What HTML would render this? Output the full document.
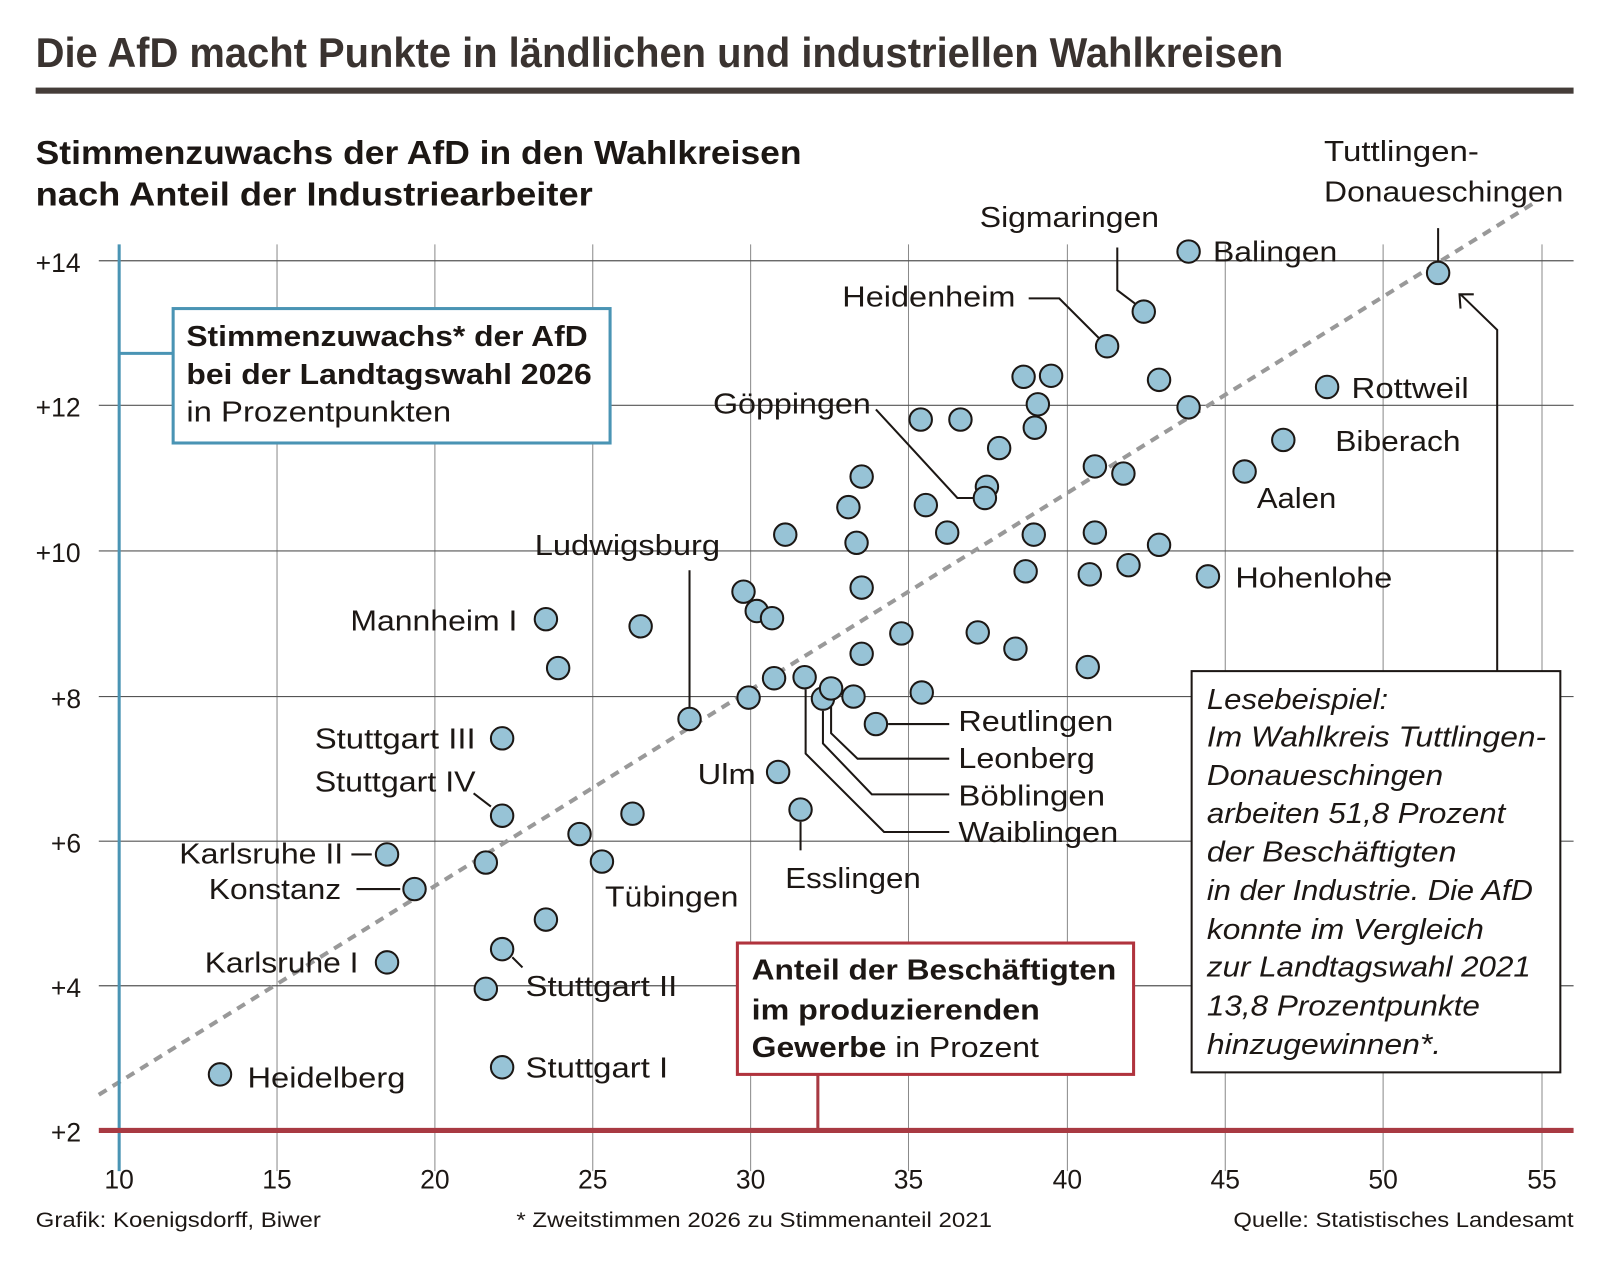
<!DOCTYPE html>
<html><head><meta charset="utf-8"><style>
html,body{margin:0;padding:0;background:#fff}
svg{display:block}
text{font-family:"Liberation Sans",sans-serif;fill:#1c1714}
.l{font-size:28px}
.b{font-weight:bold}
.t{font-size:26px}
.f{font-size:21px}
.i{font-style:italic;font-size:28px}
</style></head><body>
<svg width="1597" height="1274" viewBox="0 0 1568 1251" preserveAspectRatio="none" xmlns="http://www.w3.org/2000/svg">
<rect width="1568" height="1251" fill="#fff"/>
<text x="35" y="66" style="font-size:41px;fill:#3a3330;font-weight:bold" textLength="1225" lengthAdjust="spacingAndGlyphs">Die AfD macht Punkte in ländlichen und industriellen Wahlkreisen</text>
<rect x="35" y="86" width="1510" height="6" fill="#453d39"/>
<text x="35" y="161" class="b" style="font-size:33px" textLength="752" lengthAdjust="spacingAndGlyphs">Stimmenzuwachs der AfD in den Wahlkreisen</text>
<text x="35" y="202" class="b" style="font-size:33px" textLength="547" lengthAdjust="spacingAndGlyphs">nach Anteil der Industriearbeiter</text>

<g stroke="#8a8a8a" stroke-width="1">
<line x1="272" y1="240" x2="272" y2="1150"/><line x1="427" y1="240" x2="427" y2="1150"/>
<line x1="582" y1="240" x2="582" y2="1150"/><line x1="737" y1="240" x2="737" y2="1150"/>
<line x1="892" y1="240" x2="892" y2="1150"/><line x1="1048" y1="240" x2="1048" y2="1150"/>
<line x1="1203" y1="240" x2="1203" y2="1150"/><line x1="1358" y1="240" x2="1358" y2="1150"/>
<line x1="1514" y1="240" x2="1514" y2="1150"/>
</g>
<g stroke="#555" stroke-width="1.2">
<line x1="97" y1="256" x2="1545" y2="256"/><line x1="97" y1="398" x2="1545" y2="398"/>
<line x1="97" y1="541" x2="1545" y2="541"/><line x1="97" y1="684" x2="1545" y2="684"/>
<line x1="97" y1="826" x2="1545" y2="826"/><line x1="97" y1="968" x2="1545" y2="968"/>
</g>
<line x1="97" y1="1075" x2="1505" y2="200" stroke="#999" stroke-width="4" stroke-dasharray="9,7"/>

<text x="35" y="267" class="t">+14</text><text x="35" y="409" class="t">+12</text>
<text x="35" y="552" class="t">+10</text><text x="50" y="695" class="t">+8</text>
<text x="50" y="837" class="t">+6</text><text x="50" y="979" class="t">+4</text>
<text x="50" y="1121" class="t">+2</text>
<g text-anchor="middle">
<text x="117" y="1167" class="t">10</text><text x="272" y="1167" class="t">15</text>
<text x="427" y="1167" class="t">20</text><text x="582" y="1167" class="t">25</text>
<text x="737" y="1167" class="t">30</text><text x="892" y="1167" class="t">35</text>
<text x="1048" y="1167" class="t">40</text><text x="1203" y="1167" class="t">45</text>
<text x="1358" y="1167" class="t">50</text><text x="1514" y="1167" class="t">55</text>
</g>

<line x1="117" y1="240" x2="117" y2="1150" stroke="#4a94b4" stroke-width="3"/>
<line x1="117" y1="347" x2="170" y2="347" stroke="#4a94b4" stroke-width="3"/>
<line x1="97" y1="1110" x2="1545" y2="1110" stroke="#a83a42" stroke-width="5"/>
<line x1="803" y1="1055" x2="803" y2="1110" stroke="#a83a42" stroke-width="3"/>

<g fill="none" stroke="#1c1714" stroke-width="2">
<polyline points="1010,293 1040,293 1080,333"/>
<polyline points="1097,243 1097,285 1117,300"/>
<line x1="1412" y1="224" x2="1412" y2="257"/>
<polyline points="860,402 940,489 958,489"/>
<line x1="677" y1="560" x2="677" y2="695"/>
<line x1="872" y1="711" x2="932" y2="711"/>
<polyline points="816,688 816,720 842,745 932,745"/>
<polyline points="808,698 808,730 856,780 932,780"/>
<polyline points="791,677 791,740 868,817 932,817"/>
<line x1="786" y1="807" x2="786" y2="835"/>
<line x1="465" y1="779" x2="482" y2="792"/>
<line x1="345" y1="839" x2="365" y2="839"/>
<line x1="350" y1="873" x2="393" y2="873"/>
<line x1="503" y1="940" x2="513" y2="950"/>
<polyline points="1470,659 1470,324 1434,289"/>
<polyline points="1434,303 1433,289 1447,289"/>
</g>

<g fill="#97c3d6" stroke="#1c1714" stroke-width="2">
<circle cx="216" cy="1055" r="11"/><circle cx="493" cy="1048" r="11"/><circle cx="477" cy="971" r="11"/>
<circle cx="493" cy="932" r="11"/><circle cx="380" cy="945" r="11"/><circle cx="536" cy="903" r="11"/>
<circle cx="407" cy="873" r="11"/><circle cx="477" cy="847" r="11"/><circle cx="380" cy="839" r="11"/>
<circle cx="591" cy="846" r="11"/><circle cx="569" cy="819" r="11"/><circle cx="621" cy="799" r="11"/>
<circle cx="493" cy="801" r="11"/><circle cx="493" cy="725" r="11"/><circle cx="764" cy="758" r="11"/>
<circle cx="786" cy="795" r="11"/><circle cx="536" cy="608" r="11"/><circle cx="548" cy="656" r="11"/>
<circle cx="629" cy="615" r="11"/><circle cx="677" cy="706" r="11"/><circle cx="730" cy="581" r="11"/>
<circle cx="743" cy="600" r="11"/><circle cx="758" cy="607" r="11"/><circle cx="735" cy="685" r="11"/>
<circle cx="760" cy="666" r="11"/><circle cx="790" cy="665" r="11"/><circle cx="808" cy="686" r="11"/>
<circle cx="816" cy="676" r="11"/><circle cx="838" cy="684" r="11"/><circle cx="860" cy="711" r="11"/>
<circle cx="846" cy="642" r="11"/><circle cx="885" cy="622" r="11"/><circle cx="905" cy="680" r="11"/>
<circle cx="846" cy="577" r="11"/><circle cx="841" cy="533" r="11"/><circle cx="833" cy="498" r="11"/>
<circle cx="846" cy="468" r="11"/><circle cx="771" cy="525" r="11"/><circle cx="909" cy="496" r="11"/>
<circle cx="930" cy="523" r="11"/><circle cx="904" cy="412" r="11"/><circle cx="943" cy="412" r="11"/>
<circle cx="969" cy="478" r="11"/><circle cx="967" cy="489" r="11"/><circle cx="981" cy="440" r="11"/>
<circle cx="1005" cy="370" r="11"/><circle cx="1032" cy="369" r="11"/><circle cx="1019" cy="397" r="11"/>
<circle cx="1016" cy="420" r="11"/><circle cx="1015" cy="525" r="11"/><circle cx="1007" cy="561" r="11"/>
<circle cx="960" cy="621" r="11"/><circle cx="997" cy="637" r="11"/><circle cx="1068" cy="655" r="11"/>
<circle cx="1070" cy="564" r="11"/><circle cx="1075" cy="523" r="11"/><circle cx="1108" cy="555" r="11"/>
<circle cx="1138" cy="535" r="11"/><circle cx="1075" cy="458" r="11"/><circle cx="1103" cy="465" r="11"/>
<circle cx="1087" cy="340" r="11"/><circle cx="1123" cy="306" r="11"/><circle cx="1138" cy="373" r="11"/>
<circle cx="1167" cy="400" r="11"/><circle cx="1167" cy="247" r="11"/><circle cx="1222" cy="463" r="11"/>
<circle cx="1186" cy="566" r="11"/><circle cx="1260" cy="432" r="11"/><circle cx="1303" cy="380" r="11"/>
<circle cx="1412" cy="268" r="11"/>
</g>

<g class="l">
<text x="1300" y="158" textLength="152" lengthAdjust="spacingAndGlyphs">Tuttlingen-</text>
<text x="1300" y="198" textLength="235" lengthAdjust="spacingAndGlyphs">Donaueschingen</text>
<text x="962" y="223" textLength="176" lengthAdjust="spacingAndGlyphs">Sigmaringen</text>
<text x="1191" y="257" textLength="122" lengthAdjust="spacingAndGlyphs">Balingen</text>
<text x="827" y="301" textLength="170" lengthAdjust="spacingAndGlyphs">Heidenheim</text>
<text x="1327" y="391" textLength="115" lengthAdjust="spacingAndGlyphs">Rottweil</text>
<text x="1311" y="443" textLength="123" lengthAdjust="spacingAndGlyphs">Biberach</text>
<text x="700" y="406" textLength="155" lengthAdjust="spacingAndGlyphs">Göppingen</text>
<text x="1234" y="499" textLength="78" lengthAdjust="spacingAndGlyphs">Aalen</text>
<text x="1213" y="577" textLength="154" lengthAdjust="spacingAndGlyphs">Hohenlohe</text>
<text x="525" y="545" textLength="182" lengthAdjust="spacingAndGlyphs">Ludwigsburg</text>
<text x="344" y="619" textLength="164" lengthAdjust="spacingAndGlyphs">Mannheim I</text>
<text x="941" y="718" textLength="152" lengthAdjust="spacingAndGlyphs">Reutlingen</text>
<text x="941" y="754" textLength="134" lengthAdjust="spacingAndGlyphs">Leonberg</text>
<text x="941" y="791" textLength="144" lengthAdjust="spacingAndGlyphs">Böblingen</text>
<text x="941" y="827" textLength="157" lengthAdjust="spacingAndGlyphs">Waiblingen</text>
<text x="685" y="770" textLength="57" lengthAdjust="spacingAndGlyphs">Ulm</text>
<text x="771" y="872" textLength="133" lengthAdjust="spacingAndGlyphs">Esslingen</text>
<text x="309" y="735" textLength="158" lengthAdjust="spacingAndGlyphs">Stuttgart III</text>
<text x="309" y="777" textLength="158" lengthAdjust="spacingAndGlyphs">Stuttgart IV</text>
<text x="176" y="848" textLength="161" lengthAdjust="spacingAndGlyphs">Karlsruhe II</text>
<text x="205" y="883" textLength="130" lengthAdjust="spacingAndGlyphs">Konstanz</text>
<text x="594" y="890" textLength="131" lengthAdjust="spacingAndGlyphs">Tübingen</text>
<text x="201" y="955" textLength="151" lengthAdjust="spacingAndGlyphs">Karlsruhe I</text>
<text x="516" y="978" textLength="149" lengthAdjust="spacingAndGlyphs">Stuttgart II</text>
<text x="243" y="1068" textLength="155" lengthAdjust="spacingAndGlyphs">Heidelberg</text>
<text x="516" y="1058" textLength="140" lengthAdjust="spacingAndGlyphs">Stuttgart I</text>
</g>

<rect x="170" y="303" width="429" height="132" fill="#fff" stroke="#4a94b4" stroke-width="3"/>
<text x="183" y="340" class="l b" textLength="394" lengthAdjust="spacingAndGlyphs">Stimmenzuwachs* der AfD</text>
<text x="183" y="377" class="l b" textLength="398" lengthAdjust="spacingAndGlyphs">bei der Landtagswahl 2026</text>
<text x="183" y="414" class="l" textLength="260" lengthAdjust="spacingAndGlyphs">in Prozentpunkten</text>

<rect x="724" y="926" width="389" height="129" fill="#fff" stroke="#b0333d" stroke-width="3"/>
<text x="738" y="962" class="l b" textLength="358" lengthAdjust="spacingAndGlyphs">Anteil der Beschäftigten</text>
<text x="738" y="1001" class="l b" textLength="283" lengthAdjust="spacingAndGlyphs">im produzierenden</text>
<text x="738" y="1038" class="l" textLength="282" lengthAdjust="spacingAndGlyphs"><tspan font-weight="bold">Gewerbe</tspan> in Prozent</text>

<rect x="1170" y="659" width="362" height="394" fill="#fff" stroke="#1c1714" stroke-width="2"/>
<g class="i">
<text x="1185" y="696" textLength="178" lengthAdjust="spacingAndGlyphs">Lesebeispiel:</text>
<text x="1185" y="733" textLength="333" lengthAdjust="spacingAndGlyphs">Im Wahlkreis Tuttlingen-</text>
<text x="1185" y="771" textLength="232" lengthAdjust="spacingAndGlyphs">Donaueschingen</text>
<text x="1185" y="808" textLength="293" lengthAdjust="spacingAndGlyphs">arbeiten 51,8 Prozent</text>
<text x="1185" y="846" textLength="245" lengthAdjust="spacingAndGlyphs">der Beschäftigten</text>
<text x="1185" y="884" textLength="320" lengthAdjust="spacingAndGlyphs">in der Industrie. Die AfD</text>
<text x="1185" y="922" textLength="272" lengthAdjust="spacingAndGlyphs">konnte im Vergleich</text>
<text x="1185" y="959" textLength="318" lengthAdjust="spacingAndGlyphs">zur Landtagswahl 2021</text>
<text x="1185" y="997" textLength="268" lengthAdjust="spacingAndGlyphs">13,8 Prozentpunkte</text>
<text x="1185" y="1035" textLength="230" lengthAdjust="spacingAndGlyphs">hinzugewinnen*.</text>
</g>

<text x="35" y="1205" class="f" textLength="280" lengthAdjust="spacingAndGlyphs">Grafik: Koenigsdorff, Biwer</text>
<text x="507" y="1205" class="f" textLength="467" lengthAdjust="spacingAndGlyphs">* Zweitstimmen 2026 zu Stimmenanteil 2021</text>
<text x="1211" y="1205" class="f" textLength="334" lengthAdjust="spacingAndGlyphs">Quelle: Statistisches Landesamt</text>
</svg>
</body></html>
